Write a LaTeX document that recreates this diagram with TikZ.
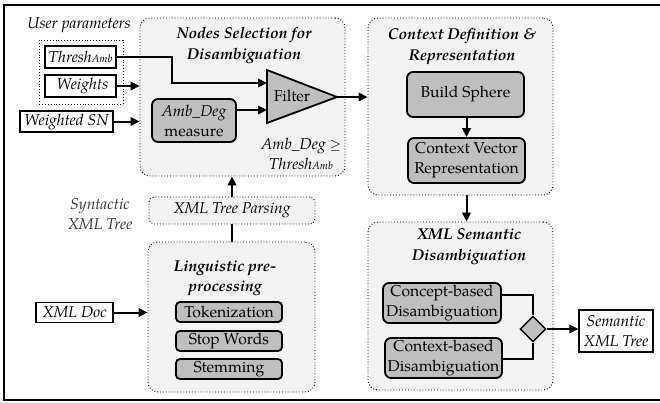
\documentclass[tikz,border=0pt]{standalone}
\usepackage{fontspec}
\setmainfont{TeX Gyre Pagella}
\usetikzlibrary{arrows.meta,shapes.geometric}
\definecolor{contfill}{HTML}{F2F2F2}
\definecolor{boxfill}{HTML}{BFBFBF}
\definecolor{labgray}{HTML}{333333}
\newcommand\myfs{\fontsize{15.7}{20}\selectfont}
\newcommand\subfs{\fontsize{10.5}{11}\selectfont}
\tikzset{
  container/.style={draw, dotted, line width=0.9pt, rounded corners=10pt, fill=contfill, inner sep=0pt},
  gbox/.style={draw, line width=1.8pt, rounded corners=6pt, fill=boxfill, inner sep=0pt, align=center},
  wbox/.style={draw, line width=1.3pt, fill=white, inner sep=0pt, align=center, font=\myfs\itshape},
  titletext/.style={align=center, font=\myfs\bfseries\itshape},
  itlabel/.style={align=center, font=\myfs\itshape},
  arr/.style={line width=2pt, -{Triangle[length=9pt,width=8.5pt]}},
  plainln/.style={line width=1.4pt},
  thickln/.style={line width=2pt},
}
\begin{document}
\begin{tikzpicture}[x=1pt,y=-1pt, every node/.style={font=\myfs}]
\useasboundingbox (0,0) rectangle (660,402);
% outer frame
\draw[line width=2.2pt] (664,5) -- (4,5) -- (4,400) -- (664,400);

% containers
\node[container, minimum width=205pt, minimum height=158pt] (ns) at (242.5,97) {};
\node[container, minimum width=185pt, minimum height=177pt] (cd) at (460.5,106.5) {};
\node[container, minimum width=185pt, minimum height=168pt] (sd) at (460.5,306) {};
\node[container, minimum width=167pt, minimum height=150pt] (lp) at (231.5,317) {};
\node[container, rounded corners=5pt, minimum width=166pt, minimum height=27pt, font=\myfs\itshape] (xp) at (232,210.5) {XML Tree Parsing};
\node[draw, dotted, line width=0.9pt, fill=white, minimum width=84pt, minimum height=64pt, inner sep=0pt] (up) at (81,72) {};

% titles and labels
\node[titletext] (nst) at (244,45.5) {Nodes Selection for\\[1pt]Disambiguation};
\node[titletext] (cdt) at (462,46.5) {Context Definition \&\\[1pt]Representation};
\node[titletext] (sdt) at (469,247) {XML Semantic\\[1pt]Disambiguation};
\node[titletext] (lpt) at (225,278) {Linguistic pre-\\processing};
\node[itlabel] (upl) at (79,25) {User parameters};
\node[itlabel, text=labgray] (stl) at (100,214) {Syntactic\\XML Tree};
\node[itlabel] (cond) at (301,154) {Amb\_Deg $\geq$\\Thresh{\subfs Amb}};

% input boxes
\node[wbox, minimum width=71pt, minimum height=22pt] (thr) at (80.5,57) {Thresh{\subfs Amb}};
\node[wbox, minimum width=71pt, minimum height=22pt] (wts) at (80.5,86) {\hspace*{4pt}Weights};
\node[wbox, minimum width=93pt, minimum height=21pt] (wsn) at (66.5,121.5) {Weighted SN};
\node[wbox, minimum width=77pt, minimum height=20pt] (xdoc) at (74.5,312.5) {XML Doc};
\node[wbox, minimum width=74pt, minimum height=42pt] (sxt) at (616,331) {Semantic\\XML Tree};

% process boxes
\node[gbox, minimum width=84pt, minimum height=43pt] (amb) at (194,120.5) {\textit{Amb\_Deg}\\measure};
\node[gbox, minimum width=117pt, minimum height=45pt] (bs) at (465.5,94.5) {Build Sphere};
\node[gbox, minimum width=117pt, minimum height=45pt] (cvr) at (466.5,160.5) {Context Vector\\Representation};
\node[gbox, rounded corners=4pt, minimum width=106pt, minimum height=20pt] (tok) at (229,312) {Tokenization};
\node[gbox, rounded corners=4pt, minimum width=106pt, minimum height=20pt] (sw) at (229,341) {Stop Words};
\node[gbox, rounded corners=4pt, minimum width=106pt, minimum height=20pt] (stem) at (229,369) {Stemming};
\node[gbox, minimum width=118pt, minimum height=40pt] (cbd) at (442,303) {Concept-based\\Disambiguation};
\node[gbox, minimum width=117pt, minimum height=40pt] (ctd) at (443.5,358) {Context-based\\Disambiguation};

% filter triangle
\coordinate (ftl) at (267,70);
\coordinate (fbl) at (267,123);
\coordinate (fap) at (337,97);
\coordinate (fin1) at (267,83);
\coordinate (fin2) at (267,110);
\draw[line width=1.8pt, fill=boxfill, line join=miter] (ftl) -- (fap) -- (fbl) -- cycle;
\node (filt) at (292,96) {Filter};

% diamond
\node[diamond, draw, line width=1.4pt, fill=boxfill, minimum width=26pt, minimum height=26pt, inner sep=0pt] (dia) at (533,329) {};

% connectors
\draw[arr] (thr.east) -- ++(55,0) |- (fin1);
\draw[arr] (wts.east) -- (wts.east -| ns.west);
\draw[arr] (wsn.east) -- (wsn.east -| ns.west);
\draw[arr] (amb.east |- fin2) -- (fin2);
\draw[arr] (fap) -- (fap -| cd.west);
\draw[arr] (bs.south -| cvr.north) -- (cvr.north);
\draw[arr] (cvr.south |- cd.south) -- (cvr.south |- sd.north);
\draw[arr] (xp.north) -- (xp.north |- ns.south);
\draw[thickln] (xp.south |- lp.north) -- (xp.south);
\draw[arr] (xdoc.east) -- (xdoc.east -| lp.west);
\draw[plainln] ([yshift=8pt]cbd.east) -| (dia.north);
\draw[plainln] ([yshift=-1pt]ctd.east) -| (dia.south);
\draw[arr] (dia.east) -- (dia.east -| sxt.west);
\end{tikzpicture}
\end{document}
